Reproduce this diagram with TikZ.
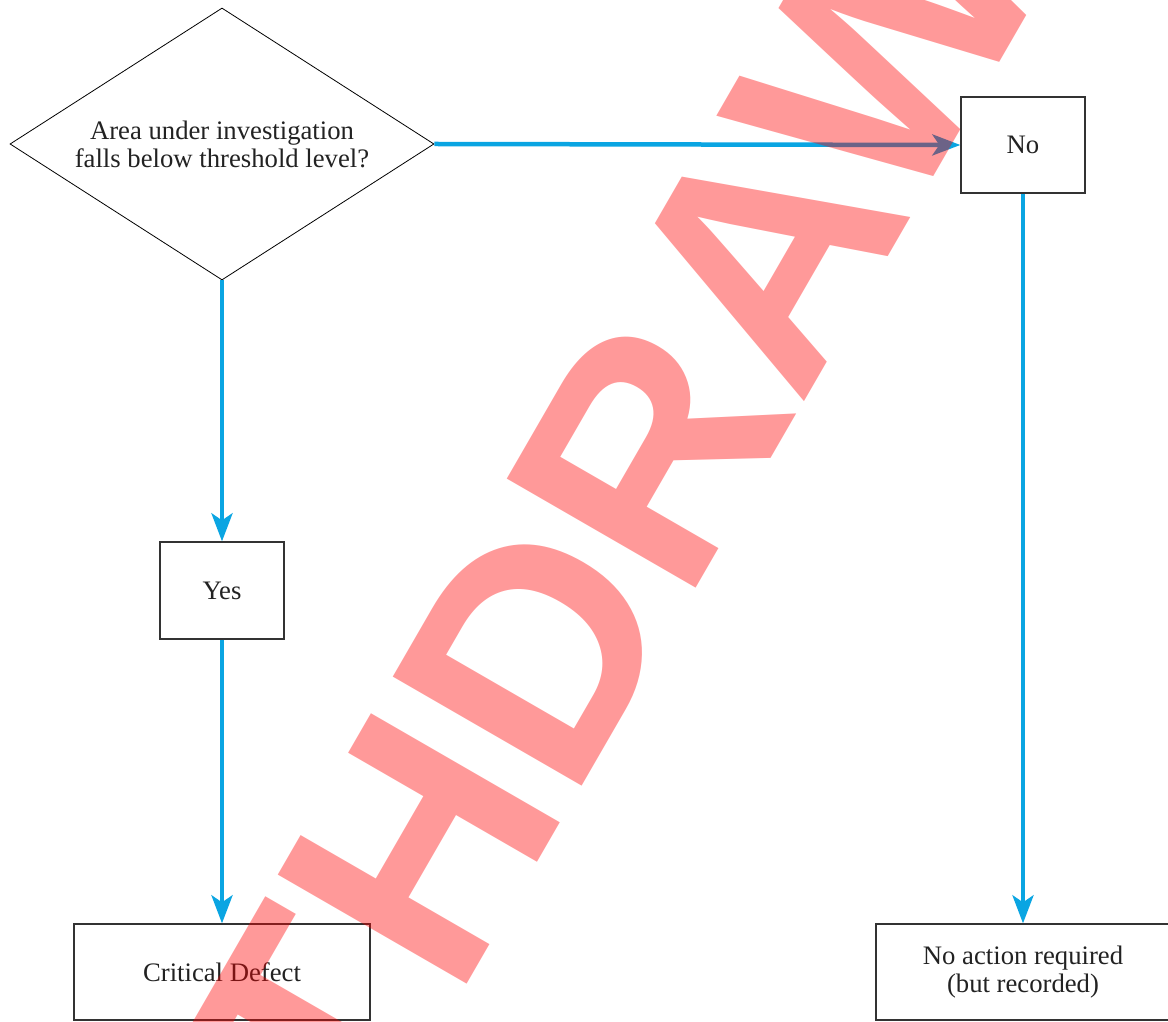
\documentclass[tikz,border=0pt]{standalone}
\usepackage{fontspec}
\setmainfont{Liberation Serif}
\newfontfamily\wmfont{Liberation Sans}
\usetikzlibrary{shapes.geometric,arrows.meta}
\definecolor{flowblue}{RGB}{10,165,226}
\definecolor{boxline}{RGB}{51,51,51}
\definecolor{txt}{RGB}{34,34,34}
\tikzset{
  lbl/.style={font=\fontsize{26.7}{28}\selectfont, text=txt, align=center},
  decision/.style={lbl, diamond, draw=black, line width=0.8pt, aspect=1.56,
    minimum width=424pt, minimum height=272pt, inner sep=0pt},
  stepbox/.style={lbl, rectangle, draw=boxline, line width=1.3pt, inner sep=0pt},
  flow/.style={draw=flowblue, line width=4.5pt,
    -{Stealth[length=28pt, width=21pt, inset=7pt]}},
  watermark/.style={text=red, text opacity=0.4, inner sep=0pt,
    font=\fontsize{317}{317}\selectfont\wmfont\bfseries}
}
\begin{document}
\begin{tikzpicture}[x=1pt,y=1pt]
\useasboundingbox (0,0) rectangle (1168,1021);
\node[decision] (q) at (222,877) {Area under investigation\\falls below threshold level?};
\node[stepbox, minimum width=124pt, minimum height=96pt] (no) at (1023,876) {No};
\node[stepbox, minimum width=124pt, minimum height=97pt] (yes) at (222,430.5) {Yes};
\node[stepbox, minimum width=296pt, minimum height=96pt] (crit) at (222,49) {Critical Defect};
\node[stepbox, minimum width=294pt, minimum height=96pt] (noact) at (1023,49) {No action required\\(but recorded)};
\draw[flow] (q.east) -- (no.west);
\draw[flow] (q.south) -- (yes.north);
\draw[flow] (yes.south) -- (crit.north);
\draw[flow] (no.south) -- (noact.north);
\node[watermark, rotate=60, anchor=base] (wm) at (668,384) {WITHDRAWN};
\end{tikzpicture}
\end{document}
